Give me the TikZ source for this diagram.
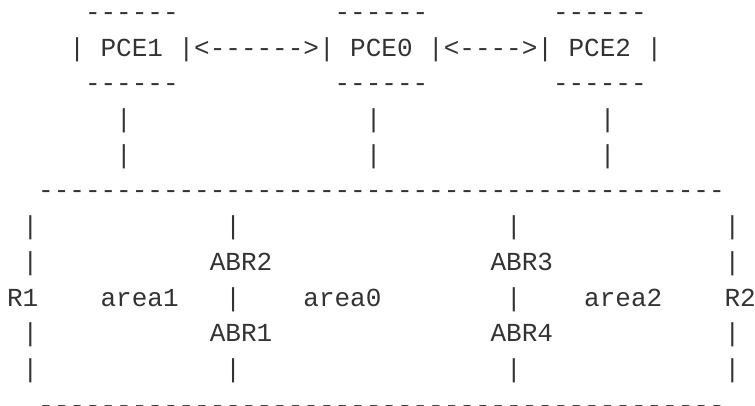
\documentclass[tikz,border=0pt]{standalone}
\usepackage{fontspec}
\newfontfamily\asciimono{Liberation Mono}
\definecolor{ink}{RGB}{51,51,51}
\begin{document}
\begin{tikzpicture}[x=1pt,y=-1pt,
  tok/.style={anchor=base west, inner sep=0pt, outer sep=0pt, text=ink, font=\asciimono\fontsize{26}{30}\selectfont}]
\useasboundingbox (0,0) rectangle (755,406);
\def\cw{15.6}
\def\lh{35.7}
\newcommand{\tk}[4]{\node[tok] (#1) at ({7+\cw*#2},{20.4+\lh*#3}) {#4};}
% row 0
\tk{t1a}{5}{0}{------}
\tk{t0a}{21}{0}{------}
\tk{t2a}{35}{0}{------}
% row 1
\tk{b1l}{4}{1}{|}
\tk{pce1}{6}{1}{PCE1}
\tk{l10}{11}{1}{|<------>|}
\tk{pce0}{22}{1}{PCE0}
\tk{l02}{27}{1}{|<---->|}
\tk{pce2}{36}{1}{PCE2}
\tk{b2r}{41}{1}{|}
% row 2
\tk{t1b}{5}{2}{------}
\tk{t0b}{21}{2}{------}
\tk{t2b}{35}{2}{------}
% rows 3-4
\tk{v1a}{7}{3}{|}
\tk{v0a}{23}{3}{|}
\tk{v2a}{38}{3}{|}
\tk{v1b}{7}{4}{|}
\tk{v0b}{23}{4}{|}
\tk{v2b}{38}{4}{|}
% row 5
\tk{top}{2}{5}{--------------------------------------------}
% row 6
\tk{r6a}{1}{6}{|}
\tk{r6b}{14}{6}{|}
\tk{r6c}{32}{6}{|}
\tk{r6d}{46}{6}{|}
% row 7
\tk{r7a}{1}{7}{|}
\tk{abr2}{13}{7}{ABR2}
\tk{abr3}{31}{7}{ABR3}
\tk{r7d}{46}{7}{|}
% row 8
\tk{r1}{0}{8}{R1}
\tk{area1}{6}{8}{area1}
\tk{r8b}{14}{8}{|}
\tk{area0}{19}{8}{area0}
\tk{r8c}{32}{8}{|}
\tk{area2}{37}{8}{area2}
\tk{r2}{46}{8}{R2}
% row 9
\tk{r9a}{1}{9}{|}
\tk{abr1}{13}{9}{ABR1}
\tk{abr4}{31}{9}{ABR4}
\tk{r9d}{46}{9}{|}
% row 10
\tk{r10a}{1}{10}{|}
\tk{r10b}{14}{10}{|}
\tk{r10c}{32}{10}{|}
\tk{r10d}{46}{10}{|}
% row 11
\tk{bot}{2}{11}{--------------------------------------------}
\end{tikzpicture}
\end{document}
